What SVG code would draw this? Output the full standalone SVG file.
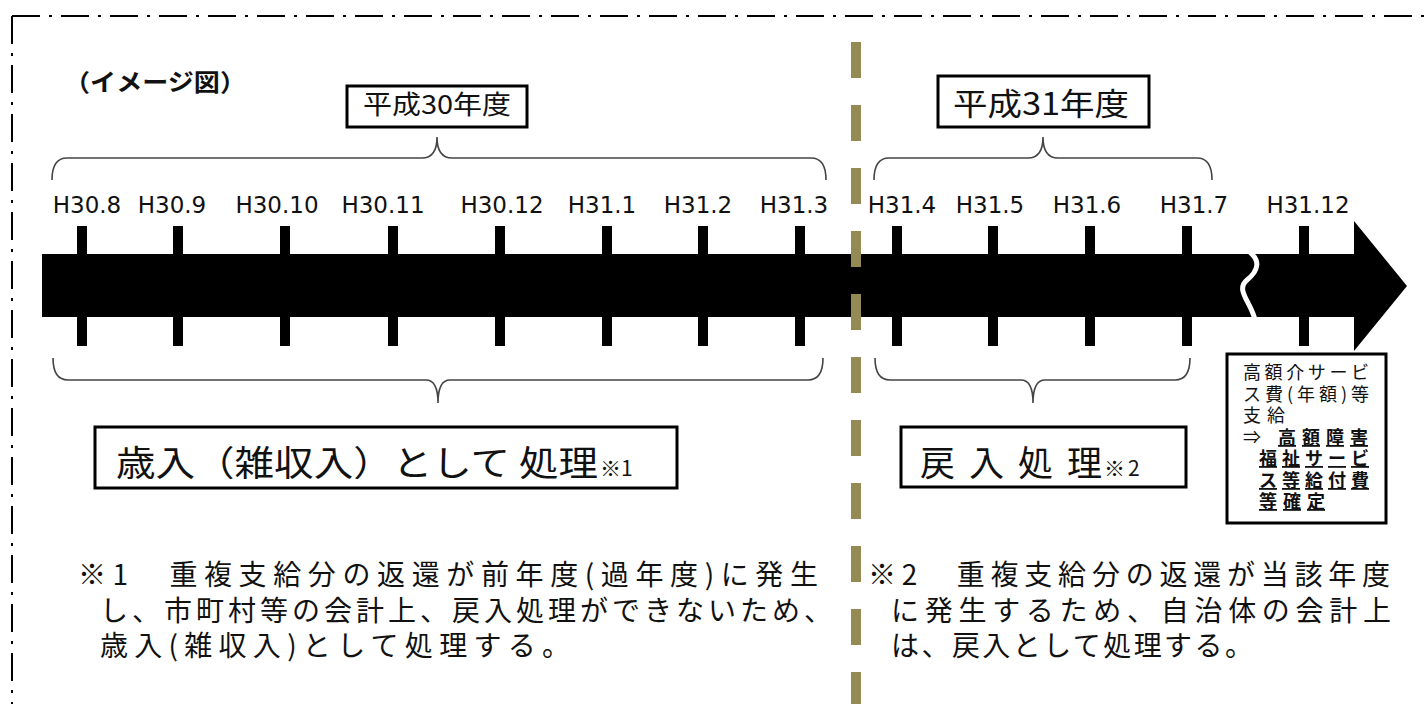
<svg xmlns="http://www.w3.org/2000/svg" width="1426" height="704" viewBox="0 0 1426 704">
<style>
.lbl{font-family:"DejaVu Sans",Verdana,sans-serif;font-size:23px;fill:#111;text-anchor:middle}
.jp{font-family:"Noto Sans CJK JP","Noto Sans",sans-serif;fill:#111}
.box{fill:#fff;stroke:#000;stroke-width:3}
.brace{fill:none;stroke:#444;stroke-width:1.6}
.tick{fill:#000}
.note{font-size:28px}
.kg{font-size:18px}
.kgb{font-size:18px;font-weight:bold;text-decoration:underline}
</style>
<rect width="1426" height="704" fill="#fff"/>
<g id="border" fill="none" stroke="#000" stroke-width="2" stroke-dasharray="28 9 3 9">
<path d="M12,16 H1426"/>
<path d="M12,16 V704"/>
</g>
<g id="title"><text class="jp" x="64" y="91" font-size="24" font-weight="bold" textLength="182" lengthAdjust="spacingAndGlyphs">（イメージ図）</text></g>
<g id="timeline">
<polygon points="42,254 1354,254 1354,221 1407,286 1354,351 1354,317 42,317" fill="#000"/>
<rect class="tick" x="77" y="226" width="10" height="120"/>
<rect class="tick" x="173" y="226" width="10" height="120"/>
<rect class="tick" x="280" y="226" width="10" height="120"/>
<rect class="tick" x="388" y="226" width="10" height="120"/>
<rect class="tick" x="495" y="226" width="10" height="120"/>
<rect class="tick" x="602" y="226" width="10" height="120"/>
<rect class="tick" x="698" y="226" width="10" height="120"/>
<rect class="tick" x="795" y="226" width="10" height="120"/>
<rect class="tick" x="892" y="226" width="10" height="120"/>
<rect class="tick" x="988" y="226" width="10" height="120"/>
<rect class="tick" x="1085" y="226" width="10" height="120"/>
<rect class="tick" x="1182" y="226" width="10" height="120"/>
<rect class="tick" x="1299" y="226" width="10" height="120"/>
<path d="M1247,250 C1262,260 1258,271 1247,280 C1235,290 1251,302 1255,320" stroke="#fff" stroke-width="5" fill="none"/>
</g>
<g id="labels">
<text class="lbl" x="87" y="213">H30.8</text>
<text class="lbl" x="172" y="213">H30.9</text>
<text class="lbl" x="277" y="213">H30.10</text>
<text class="lbl" x="383" y="213">H30.11</text>
<text class="lbl" x="502" y="213">H30.12</text>
<text class="lbl" x="602" y="213">H31.1</text>
<text class="lbl" x="698" y="213">H31.2</text>
<text class="lbl" x="794" y="213">H31.3</text>
<text class="lbl" x="902" y="213">H31.4</text>
<text class="lbl" x="990" y="213">H31.5</text>
<text class="lbl" x="1087" y="213">H31.6</text>
<text class="lbl" x="1194" y="213">H31.7</text>
<text class="lbl" x="1308" y="213">H31.12</text>
</g>
<g id="divider"><line x1="856" y1="42" x2="856" y2="704" stroke="#948A54" stroke-width="10" stroke-dasharray="36 27"/></g>
<g id="connectors">
<path class="brace" d="M52,180 Q52,158 67,158 L422,158 Q437,158 437,137 Q437,158 452,158 L811,158 Q826,158 826,180"/>
<path class="brace" d="M874,180 Q874,158 889,158 L1028,158 Q1043,158 1043,137 Q1043,158 1058,158 L1197,158 Q1212,158 1212,180"/>
<path class="brace" d="M53,358 Q53,380 68,380 L426,380 Q438,380 438,403 Q438,380 450,380 L808,380 Q823,380 823,358"/>
<path class="brace" d="M875,358 Q875,380 890,380 L1021,380 Q1033,380 1033,403 Q1033,380 1045,380 L1175,380 Q1190,380 1190,358"/>
</g>
<g id="fy30">
<rect class="box" x="347" y="86" width="180" height="41"/>
<text class="jp" x="363" y="114" font-size="26" textLength="148" lengthAdjust="spacingAndGlyphs">平成30年度</text>
</g>
<g id="fy31">
<rect class="box" x="938" y="76" width="211" height="51"/>
<text class="jp" x="953" y="115" font-size="31" textLength="176" lengthAdjust="spacingAndGlyphs">平成31年度</text>
</g>
<g id="sainyu">
<rect class="box" x="95" y="427" width="582" height="61"/>
<text class="jp" x="116" y="476" font-size="35" textLength="482" lengthAdjust="spacingAndGlyphs">歳入（雑収入）として 処理</text>
<text class="jp" x="600" y="476" font-size="21">※1</text>
</g>
<g id="reinyu">
<rect class="box" x="901" y="427" width="285" height="60"/>
<text class="jp" x="920" y="476" font-size="35" textLength="182" lengthAdjust="spacing">戻入処理</text>
<text class="jp" x="1104" y="476" font-size="21" letter-spacing="3">※2</text>
</g>
<g id="kogaku">
<rect x="1227" y="354" width="159" height="169" fill="#fff" stroke="#000" stroke-width="3"/>
<text class="jp kg" x="1243" y="379" textLength="126" lengthAdjust="spacing">高額介サービ</text>
<text class="jp kg" x="1243" y="401" textLength="126" lengthAdjust="spacing">ス費(年額)等</text>
<text class="jp kg" x="1243" y="422" textLength="42" lengthAdjust="spacing">支給</text>
<text class="jp kg" x="1243" y="444">⇒</text>
<text class="jp kgb" x="1278" y="444" textLength="90" lengthAdjust="spacing">高額障害</text>
<text class="jp kgb" x="1259" y="465" textLength="110" lengthAdjust="spacing">福祉サービ</text>
<text class="jp kgb" x="1259" y="487" textLength="110" lengthAdjust="spacing">ス等給付費</text>
<text class="jp kgb" x="1259" y="508" textLength="66" lengthAdjust="spacing">等確定</text>
</g>
<g id="note1">
<text class="jp note" x="78" y="585" textLength="740" lengthAdjust="spacing">※1　重複支給分の返還が前年度(過年度)に発生</text>
<text class="jp note" x="100" y="621" textLength="732" lengthAdjust="spacing">し、市町村等の会計上、戻入処理ができないため、</text>
<text class="jp note" x="100" y="656" textLength="470" lengthAdjust="spacing">歳入(雑収入)として処理する。</text>
</g>
<g id="note2">
<text class="jp note" x="868" y="585" textLength="522" lengthAdjust="spacing">※2　重複支給分の返還が当該年度</text>
<text class="jp note" x="891" y="621" textLength="500" lengthAdjust="spacing">に発生するため、自治体の会計上</text>
<text class="jp note" x="891" y="656" textLength="362" lengthAdjust="spacing">は、戻入として処理する。</text>
</g>
</svg>
